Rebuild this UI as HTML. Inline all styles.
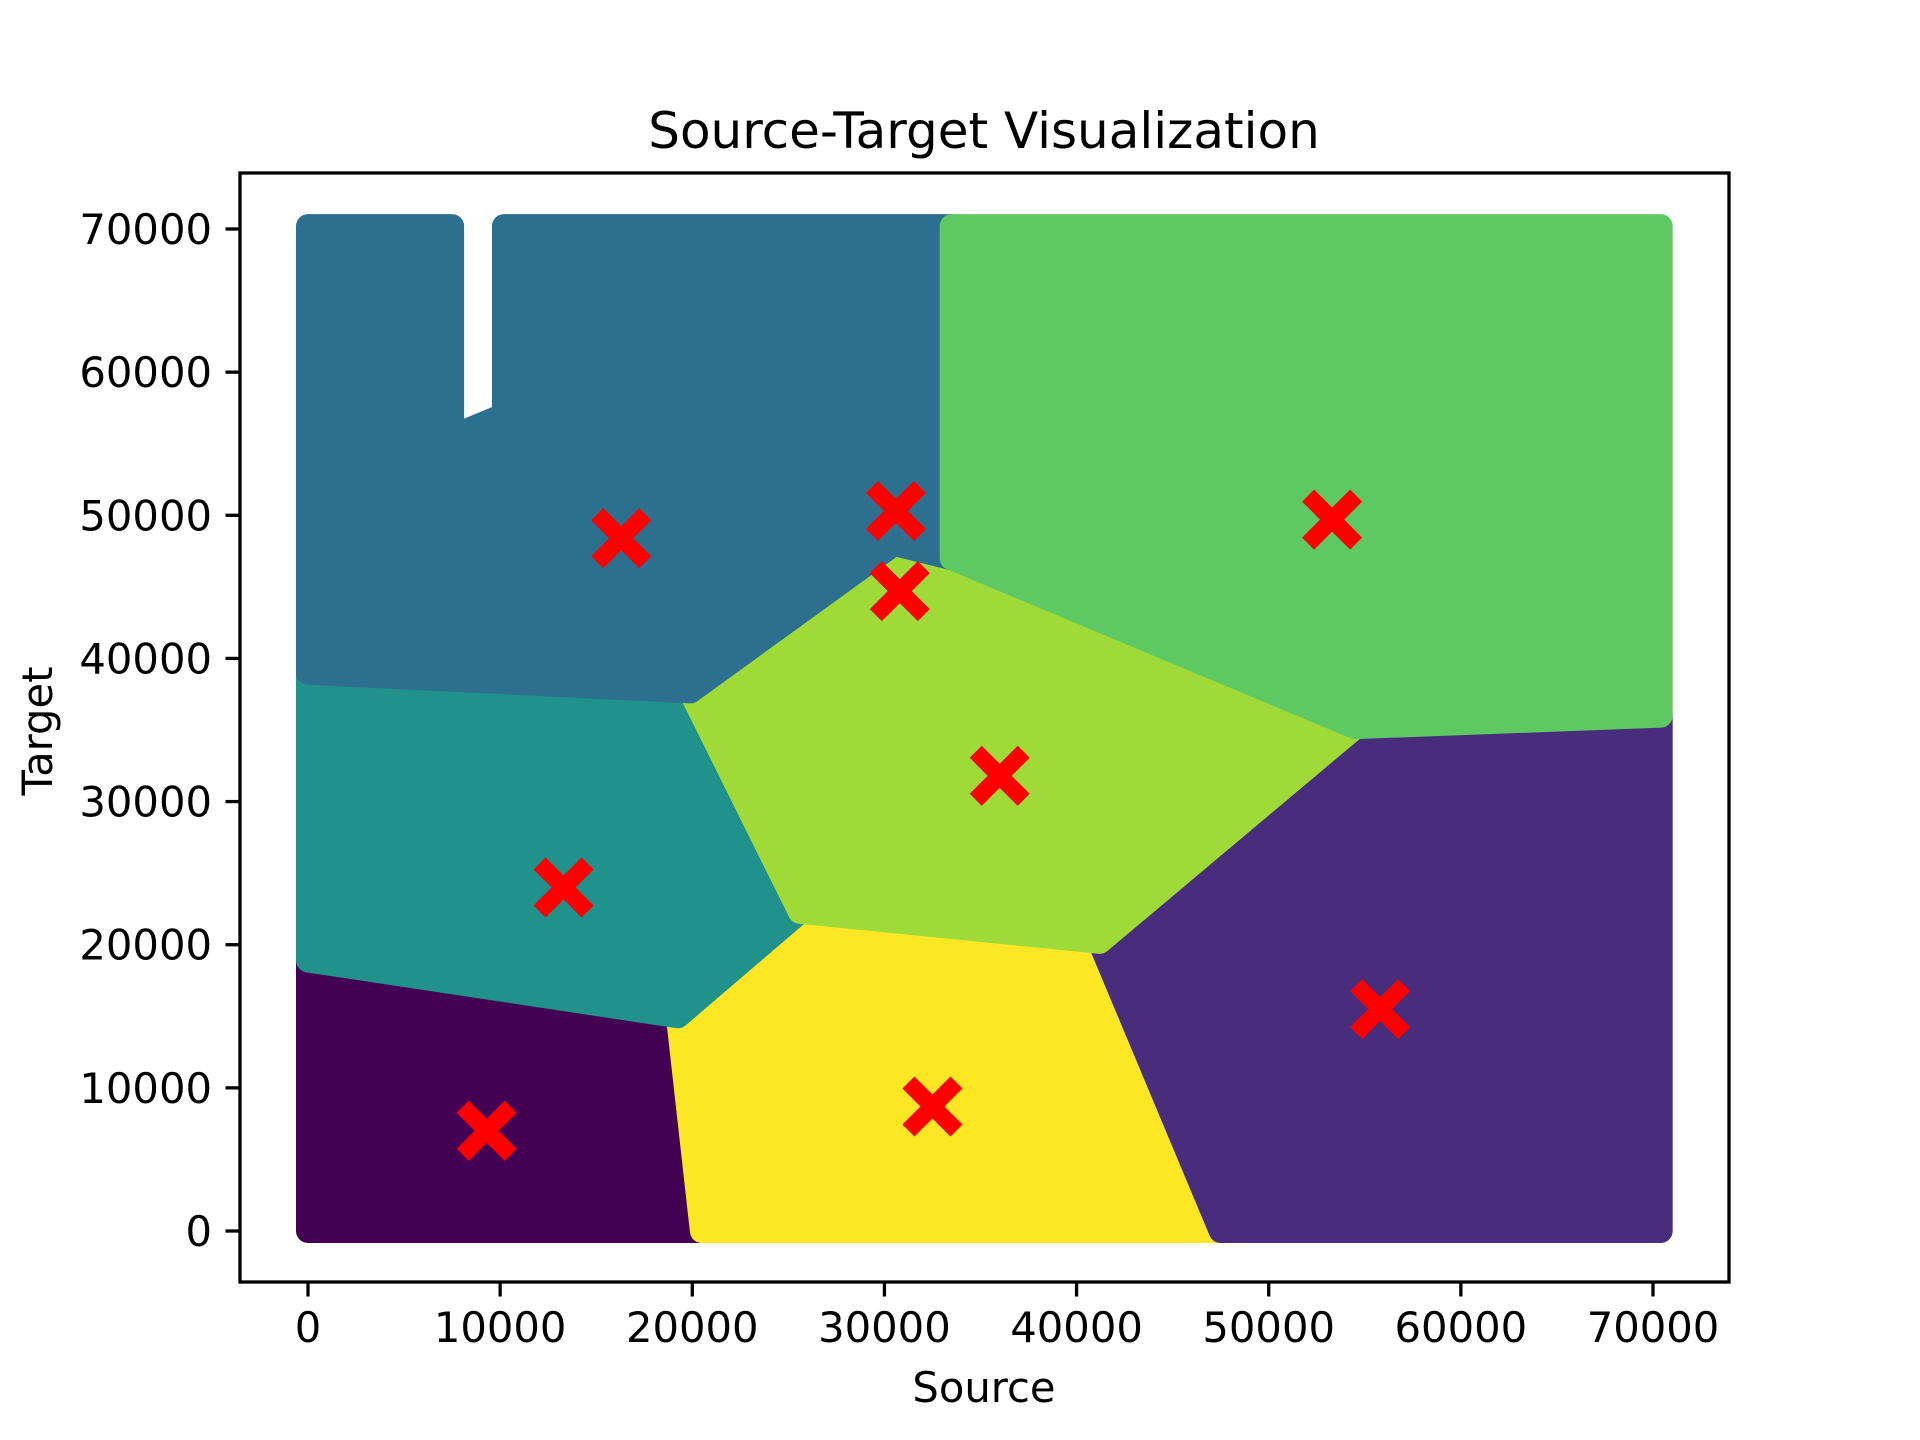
<!DOCTYPE html>
<html><head><meta charset="utf-8"><style>
body{margin:0;background:#fff}
svg{display:block}
text{font-family:"DejaVu Sans","Liberation Sans",sans-serif;fill:#000}
</style></head><body>
<svg id="chart" width="1920" height="1440" viewBox="0 0 1920 1440" xmlns="http://www.w3.org/2000/svg">
<text x="984" y="148" font-size="50" text-anchor="middle">Source-Target Visualization</text>
<g id="plot"></g>
<rect x="240" y="173" width="1489" height="1109" fill="none" stroke="#000" stroke-width="3.3"/>
<g id="ticks"></g>
<text x="984" y="1402" font-size="41.7" text-anchor="middle">Source</text>
<text x="52" y="731" font-size="41.7" text-anchor="middle" transform="rotate(-90 52 731)">Target</text>
</svg>
<script>
const xTicks=[0,10000,20000,30000,40000,50000,60000,70000];
const yTicks=[0,10000,20000,30000,40000,50000,60000,70000];
const clusterNames=['c0','c1','c2','c3','c4','c5','c6','c7'];
const clusterColors=['#440154','#fde725','#472d7b','#21918c','#a0da39','#2c6f8e','#5ec962','#3b528b'];
const region0=[[0,0],[20500,0],[19250,15000],[0,18900]];
const region1=[[20500,0],[47500,0],[41200,20200],[25600,22300],[19250,15000]];
const region2=[[47500,0],[70400,0],[70400,36000],[54500,35200],[41200,20200]];
const region3=[[0,18900],[19250,15000],[25600,22300],[19900,37700],[0,39000]];
const region4=[[25600,22300],[41200,20200],[54500,35200],[33500,47000],[30500,48000],[19900,37700]];
const region5=[[0,39000],[19900,37700],[30500,48000],[33500,47000],[33500,70200],[10200,70200],[10200,57000],[7500,55500],[7500,70200],[0,70200]];
const region6=[[33500,47000],[54500,35200],[70400,36000],[70400,70200],[33500,70200]];
const regions=[region0,region1,region2,region3,region4,region5,region6];
const centerX=[9300,32500,55800,13300,36000,16300,30600,30800,53300];
const centerY=[7000,8700,15500,24000,31800,48400,50300,44700,49700];

const NS='http://www.w3.org/2000/svg';
const sx=v=>308+v*(1653-308)/70000;
const sy=v=>1231-v*(1231-229)/70000;
const plot=document.getElementById('plot');
regions.forEach((r,i)=>{
  const p=document.createElementNS(NS,'polygon');
  p.setAttribute('points',r.map(q=>sx(q[0])+','+sy(q[1])).join(' '));
  p.setAttribute('fill',clusterColors[i]);
  p.setAttribute('stroke',clusterColors[i]);
  p.setAttribute('stroke-width','24');
  p.setAttribute('stroke-linejoin','round');
  
  
  plot.appendChild(p);
});
centerX.forEach((cx,i)=>{
  const x=sx(cx),y=sy(centerY[i]),s=18;
  const g=document.createElementNS(NS,'path');
  g.setAttribute('d',`M${x-s},${y-s}L${x+s},${y+s}M${x+s},${y-s}L${x-s},${y+s}`);
  g.setAttribute('stroke','#ff0000');
  g.setAttribute('stroke-width','17');
  g.setAttribute('stroke-linecap','square');
  
  
  plot.appendChild(g);
});
const tk=document.getElementById('ticks');
xTicks.forEach(v=>{
  const x=sx(v);
  const l=document.createElementNS(NS,'line');
  l.setAttribute('x1',x);l.setAttribute('x2',x);l.setAttribute('y1',1282);l.setAttribute('y2',1296.5);
  l.setAttribute('stroke','#000');l.setAttribute('stroke-width','3.3');
  
  
  tk.appendChild(l);
  const t=document.createElementNS(NS,'text');
  t.setAttribute('x',x);t.setAttribute('y',1342);t.setAttribute('font-size','41.7');t.setAttribute('text-anchor','middle');
  
  
  t.textContent=v;tk.appendChild(t);
});
yTicks.forEach(v=>{
  const y=sy(v);
  const l=document.createElementNS(NS,'line');
  l.setAttribute('x1',225.5);l.setAttribute('x2',240);l.setAttribute('y1',y);l.setAttribute('y2',y);
  l.setAttribute('stroke','#000');l.setAttribute('stroke-width','3.3');
  
  
  tk.appendChild(l);
  const t=document.createElementNS(NS,'text');
  t.setAttribute('x',212);t.setAttribute('y',y+15);t.setAttribute('font-size','41.7');t.setAttribute('text-anchor','end');
  
  
  t.textContent=v;tk.appendChild(t);
});
</script>
</body></html>
